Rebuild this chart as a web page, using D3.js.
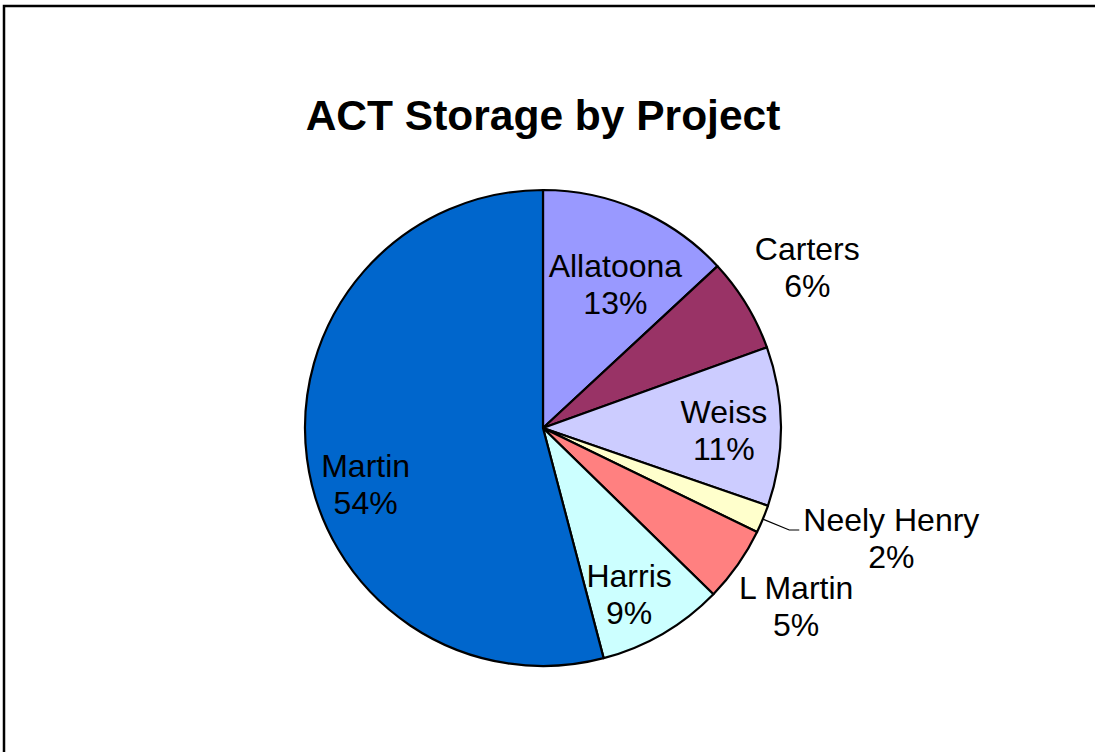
<!DOCTYPE html>
<html>
<head>
<meta charset="utf-8">
<script src="https://cdn.jsdelivr.net/npm/d3@7"></script>
<style>
  html, body { margin: 0; padding: 0; background: #fff; }
  svg { display: block; font-family: "Liberation Sans", Arial, sans-serif; }
</style>
</head>
<body>
<svg id="chart" width="1095" height="752"></svg>
<script>
const title = "ACT Storage by Project";
const projects = ["Allatoona", "Carters", "Weiss", "Neely Henry", "L Martin", "Harris", "Martin"];
const storageShare = [13.1, 6.4, 10.8, 1.9, 5.1, 8.6, 54.1];
const percentLabels = ["13%", "6%", "11%", "2%", "5%", "9%", "54%"];
const sliceColors = ["#9999FF", "#993366", "#CCCCFF", "#FFFFCC", "#FF8080", "#CCFFFF", "#0066CC"];

// small layout nudges for inside labels (pixels, relative to the arc centroid)
const labelNudge = { "Allatoona": [0, 22], "Weiss": [0, 3], "Harris": [-5, 10], "Martin": [2, 33] };

const W = 1095, H = 752;
const cx = 543, cy = 428, R = 238;
const lineGap = 37;
const fontSize = 32;
const svg = d3.select("#chart");

// frame (extends past right/bottom edges as in reference)
svg.append("rect")
  .attr("x", 4).attr("y", 6)
  .attr("width", W + 20).attr("height", H + 20)
  .attr("fill", "#fff").attr("stroke", "#000").attr("stroke-width", 2.5);

svg.append("text")
  .attr("x", cx).attr("y", 130)
  .attr("text-anchor", "middle")
  .attr("font-size", 42.5).attr("font-weight", "bold")
  .text(title);

const data = projects.map((p, i) => ({ name: p, value: storageShare[i], label: percentLabels[i], color: sliceColors[i] }));
const pie = d3.pie().value(d => d.value).sort(null).startAngle(0).endAngle(2 * Math.PI);
const arcs = pie(data);
const arc = d3.arc().innerRadius(0).outerRadius(R);

const g = svg.append("g").attr("transform", `translate(${cx},${cy})`);
g.selectAll("path.slice").data(arcs).enter().append("path")
  .attr("class", "slice")
  .attr("d", arc)
  .attr("fill", d => d.data.color)
  .attr("stroke", "#000").attr("stroke-width", 2.2).attr("stroke-linejoin", "round");

const pt = (a, r) => [r * Math.sin(a), -r * Math.cos(a)];

arcs.forEach(d => {
  const mid = (d.startAngle + d.endAngle) / 2;
  const v = d.data.value;
  if (v < 3) {
    // leader-line label
    const p0 = pt(mid, R);
    const p1 = pt(mid, R * 1.12);
    const p2 = [p1[0] + 10, p1[1]];
    g.append("polyline")
      .attr("points", [p0, p1, p2].map(p => p.join(",")).join(" "))
      .attr("fill", "none").attr("stroke", "#000").attr("stroke-width", 1.2);
    const t = g.append("text").attr("font-size", fontSize).attr("text-anchor", "middle");
    const l1 = t.append("tspan").text(d.data.name);
    const w = l1.node().getComputedTextLength();
    const xc = p2[0] + 4 + w / 2;
    l1.attr("x", xc).attr("y", p2[1] + 1);
    t.append("tspan").attr("x", xc).attr("y", p2[1] + 1 + lineGap).text(d.data.label);
  } else {
    let c;
    if (v < 7) {
      c = pt(mid, R * 1.3);
    } else {
      c = pt(mid, R * 0.76);
      const n = labelNudge[d.data.name] || [0, 0];
      c[0] += n[0]; c[1] += n[1];
    }
    const t = g.append("text").attr("font-size", fontSize).attr("text-anchor", "middle");
    const b1 = c[1] - 7;
    t.append("tspan").attr("x", c[0]).attr("y", b1).text(d.data.name);
    t.append("tspan").attr("x", c[0]).attr("y", b1 + lineGap).text(d.data.label);
  }
});
</script>
</body>
</html>
